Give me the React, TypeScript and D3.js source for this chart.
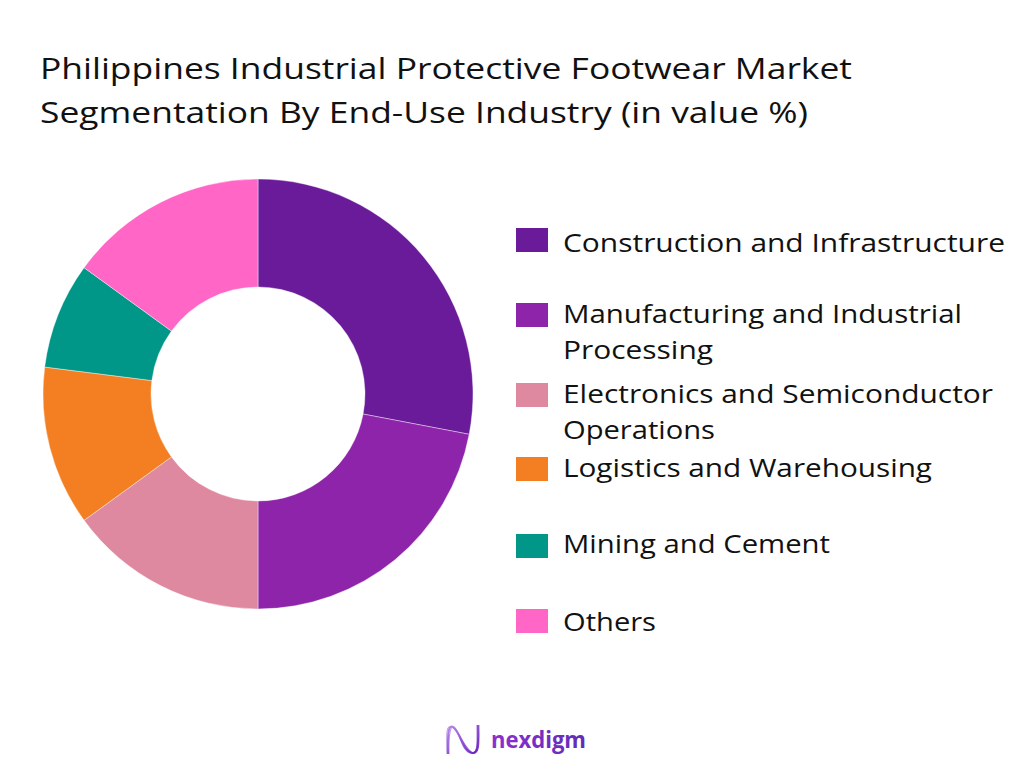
import React from "react";
import * as d3 from "d3";

const categories = [
  "Construction and Infrastructure",
  "Manufacturing and Industrial Processing",
  "Electronics and Semiconductor Operations",
  "Logistics and Warehousing",
  "Mining and Cement",
  "Others",
];
const values = [28, 22, 15, 12, 8, 15];
const legendLines = [
  ["Construction and Infrastructure"],
  ["Manufacturing and Industrial", "Processing"],
  ["Electronics and Semiconductor", "Operations"],
  ["Logistics and Warehousing"],
  ["Mining and Cement"],
  ["Others"],
];
const colors = ["#6A1B9A", "#8E24AA", "#DE89A0", "#F47F22", "#009688", "#FF66C6"];
const titleLines = [
  "Philippines Industrial Protective Footwear Market",
  "Segmentation By End-Use Industry (in value %)",
];

const FONT = "'Open Sans', 'Noto Sans', sans-serif";

// layout (pixel positions of legend rows and text widths measured from reference)
const legendSquareTops = [228, 303, 383, 457, 534, 609];
const legendBaselines = [252, 323, 403, 477, 553, 631];
const legendWidths = [
  [442],
  [399, 150],
  [430, 152],
  [369],
  [267],
  [93],
];

export default function App() {
  const cx = 258;
  const cy = 394;
  const pie = d3
    .pie<number>()
    .sort(null)
    .value((d) => d)
    .startAngle(0)
    .endAngle(2 * Math.PI);
  const arcs = pie(values);
  const arc = d3.arc<d3.PieArcDatum<number>>().innerRadius(107).outerRadius(215);

  const legendX = 516;

  return (
    <svg
      width={1024}
      height={768}
      style={{ position: "absolute", left: 0, top: 0, background: "#fff" }}
    >
      <defs>
        <linearGradient id="logoGrad" x1="0" x2="1" y1="0" y2="0">
          <stop offset="0%" stopColor="#8E2FCC" />
          <stop offset="100%" stopColor="#5F2DB8" />
        </linearGradient>
        <linearGradient id="iconGrad" x1="0" x2="1" y1="0" y2="1">
          <stop offset="0%" stopColor="#B88BE8" />
          <stop offset="100%" stopColor="#6A1FC0" />
        </linearGradient>
      </defs>
      <rect x={0} y={0} width={1024} height={768} fill="#fff" />
      {titleLines.map((t, i) => (
        <text
          key={i}
          x={40}
          y={79 + i * 44}
          fontFamily={FONT}
          fontSize={28.5}
          fill="#111"
          textLength={i === 0 ? 812 : 768}
          lengthAdjust="spacingAndGlyphs"
        >
          {t}
        </text>
      ))}
      <g transform={`translate(${cx},${cy})`}>
        {arcs.map((a, i) => (
          <path key={categories[i]} d={arc(a) || ""} fill={colors[i]} stroke="#fff" strokeWidth={0.4} />
        ))}
      </g>
      {legendLines.map((lines, i) => {
        const top = legendSquareTops[i];
        return (
          <g key={i}>
            <rect x={legendX} y={top} width={32} height={24} fill={colors[i]} />
            {lines.map((l, j) => (
              <text
                key={j}
                x={563}
                y={legendBaselines[i] + j * 36}
                fontFamily={FONT}
                fontSize={25}
                fill="#111"
                textLength={legendWidths[i][j]}
                lengthAdjust="spacingAndGlyphs"
              >
                {l}
              </text>
            ))}
          </g>
        );
      })}
      <g>
        {[0, 2.5, 5].map((o, k) => (
          <path
            key={k}
            d={`M${447 + o * 0.4},${754} C${447 + o * 0.3},${738} ${445 + o},${724} ${452 + o * 0.4},${727} C${460},${731} ${466 - o},${753} ${474 - o * 0.4},${753} C${480 - o * 0.3},${753} ${479 - o * 0.4},${740} ${479 - o * 0.4},${725}`}
            fill="none"
            stroke="url(#iconGrad)"
            strokeWidth={k === 1 ? 2 : 1.1}
            strokeOpacity={k === 1 ? 1 : 0.75}
          />
        ))}
        <text x={491} y={748} fontFamily={FONT} fontSize={24} fontWeight={700} fill="url(#logoGrad)" textLength={95} lengthAdjust="spacingAndGlyphs">
          nexdigm
        </text>
      </g>
    </svg>
  );
}
